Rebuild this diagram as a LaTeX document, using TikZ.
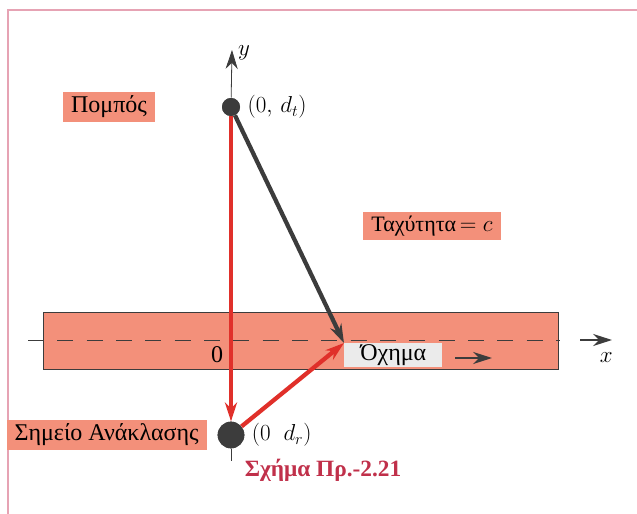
\documentclass[tikz,border=0pt]{standalone}
\usepackage{amsmath,amssymb}
\usepackage{fontspec}
\setmainfont{Liberation Serif}
\usepackage{xcolor}
\usetikzlibrary{positioning,arrows.meta}

\definecolor{salmon}{HTML}{F3907A}
\definecolor{redline}{HTML}{E0302A}
\definecolor{darkdot}{HTML}{3C3C3C}
\definecolor{framepink}{HTML}{E6A3B4}
\definecolor{capred}{HTML}{C0304A}

\begin{document}
\begin{tikzpicture}[x=0.75pt, y=-0.75pt, node distance=2pt,
    every node/.style={font=\fontsize{18}{21}\selectfont},
    >={Stealth[length=5mm, width=3.2mm]},
    tag/.style={fill=salmon, inner xsep=6pt, inner ysep=3pt},
    dot/.style={circle, fill=darkdot, inner sep=0pt, minimum size=#1},
    ray/.style={line width=3.2pt}]
  \useasboundingbox (0,0) rectangle (637,514);
  % frame
  \draw[framepink, line width=0.8pt] (8,514) -- (8,10) -- (637,10);
  % road
  \draw[darkdot, fill=salmon] (43,312) rectangle (558,369);
  \draw[darkdot, dashed, dash pattern=on 12pt off 10pt] (28,340) -- (560,340);
  \coordinate (xa) at (580,340); \coordinate (xb) at (612,340);
  \draw[->, darkdot, line width=1pt] (xa) -- (xb);
  \node[below left=6pt and -4pt of xb] (xl) {$x$};
  \node (zero) at (217,355) {0};
  % points
  \node[dot=13.5pt] (tx) at (231,107) {};
  \node[dot=20pt] (rx) at (231,435) {};
  \coordinate (yend) at (232,50);
  \coordinate (car) at (344,343);
  \draw[->, darkdot, line width=0.6pt] (tx) -- (yend);
  \node[right=1pt of yend, yshift=-2pt] (yl) {$y$};
  \draw[darkdot, line width=0.6pt] (rx.south) -- ++(0,12);
  % rays
  \draw[->, ray, darkdot] (tx) -- (car);
  \draw[->, ray, redline] (tx) -- (rx);
  \draw[->, ray, redline] (rx) -- (car);
  \node[dot=13.5pt] at (tx) {};
  \node[dot=20pt] at (rx) {};
  % labels
  \node[right=of tx] (txl) {$(0,\,d_t)$};
  \node[right=of rx] (rxl) {$(0\;\;d_r)$};
  \node[tag] (pompos) at (109,107) {Πομπός};
  \node[tag, font=\fontsize{16.5}{20}\selectfont] (speed) at (432,226) {Ταχύτητα$\,=c$};
  \node[tag, anchor=east] (refl) at (207,435) {Σημείο Ανάκλασης};
  \node[fill=black!8, anchor=north west, inner xsep=4pt, inner ysep=1pt, minimum width=98pt*0.75] (veh) at (car) {Όχημα};
  \coordinate (va) at (455,358); \coordinate (vb) at (492,358);
  \draw[->, darkdot, line width=1pt] (va) -- (vb);
  % caption
  \node[text=capred, font=\fontsize{17.5}{21}\selectfont\bfseries] (cap) at (323,470) {Σχήμα Πρ.-2.21};
\end{tikzpicture}
\end{document}
